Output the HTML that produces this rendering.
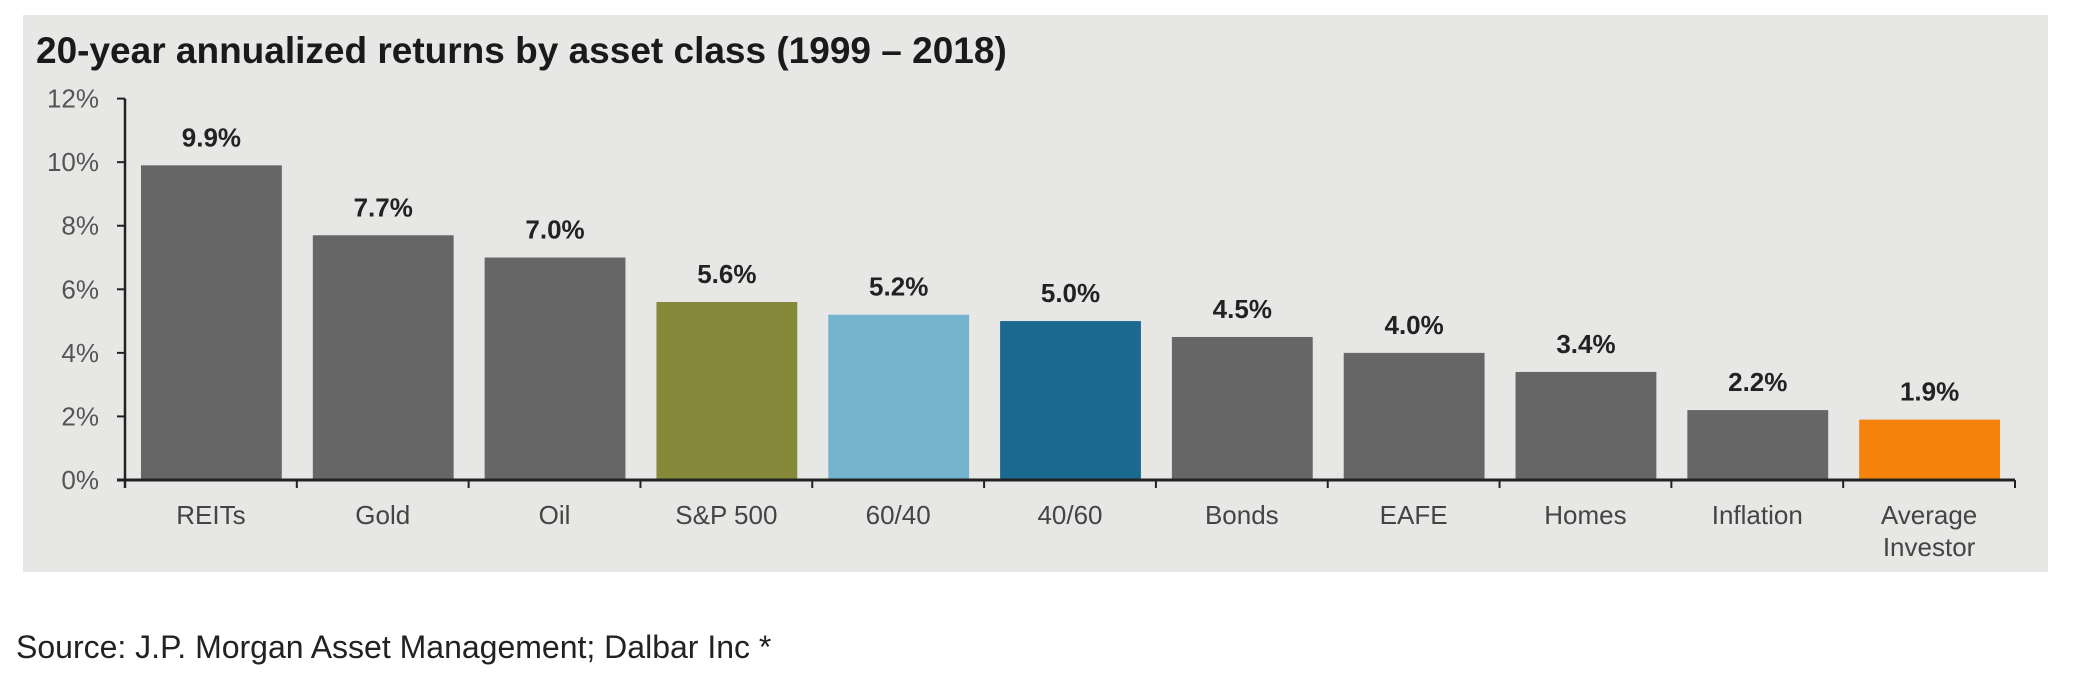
<!DOCTYPE html>
<html><head><meta charset="utf-8"><style>
body{margin:0;background:#fff;width:2084px;height:672px;overflow:hidden;font-family:"Liberation Sans",sans-serif}
</style></head><body>
<svg width="2084" height="672" id="svg">
<rect x="23" y="15" width="2025" height="557" fill="#e7e7e5"/>
<text x="36" y="63" font-size="37" font-weight="bold" fill="#1a1a1a">20-year annualized returns by asset class (1999 – 2018)</text>
<text x="16" y="658" font-size="32" fill="#222">Source: J.P. Morgan Asset Management; Dalbar Inc *</text>
<g id="plot"></g>
</svg>
<script>
const categories=["REITs","Gold","Oil","S&P 500","60/40","40/60","Bonds","EAFE","Homes","Inflation","Average|Investor"];
const values=[9.9,7.7,7.0,5.6,5.2,5.0,4.5,4.0,3.4,2.2,1.9];
const valueLabels=["9.9%","7.7%","7.0%","5.6%","5.2%","5.0%","4.5%","4.0%","3.4%","2.2%","1.9%"];
const colors=["#666666","#666666","#666666","#86893a","#74b3cc","#1b6891","#666666","#666666","#666666","#666666","#f5820b"];
const yTicks=[0,2,4,6,8,10,12];
const yTickLabels=["0%","2%","4%","6%","8%","10%","12%"];
const NS="http://www.w3.org/2000/svg";
const g=document.getElementById('plot');
const x0=125,x1=2015,y0=480,yTop=98.6,yMax=12;
const band=(x1-x0)/categories.length;
const y=v=>y0-(v/yMax)*(y0-yTop);
function mk(t,a){const e=document.createElementNS(NS,t);for(const k in a)e.setAttribute(k,a[k]);g.appendChild(e);return e;}
yTicks.forEach((t,i)=>{
 const tk=mk('line',{x1:x0-8,x2:x0,y1:y(t),y2:y(t),stroke:'#222','stroke-width':2});
 
 
 const tl=mk('text',{x:x0-26,y:y(t)+9,'font-size':26,fill:'#555','text-anchor':'end'});
 tl.textContent=yTickLabels[i];
 
 
});
categories.forEach((c,i)=>{
 const bx=x0+i*band+16,bw=band-31;
 const r=mk('rect',{x:bx,y:y(values[i]),width:bw,height:y0-y(values[i]),fill:colors[i]});
 
 
 const vl=mk('text',{x:bx+bw/2,y:y(values[i])-19,'font-size':26,'font-weight':'bold',fill:'#222','text-anchor':'middle'});
 vl.textContent=valueLabels[i];
 
 
 c.split('|').forEach((ln,j)=>{
  const t=mk('text',{x:x0+(i+0.5)*band,y:524+j*32,'font-size':26,fill:'#444','text-anchor':'middle'});
  t.textContent=ln;
  
  
 });
 const tk=mk('line',{x1:x0+(i+1)*band,x2:x0+(i+1)*band,y1:y0,y2:y0+8,stroke:'#222','stroke-width':2});
 
 
});
const ya=mk('line',{x1:x0,x2:x0,y1:yTop,y2:y0+8,stroke:'#222','stroke-width':2.5});


const xa=mk('line',{x1:x0-8,x2:x1,y1:y0,y2:y0,stroke:'#222','stroke-width':3});


</script>
</body></html>
